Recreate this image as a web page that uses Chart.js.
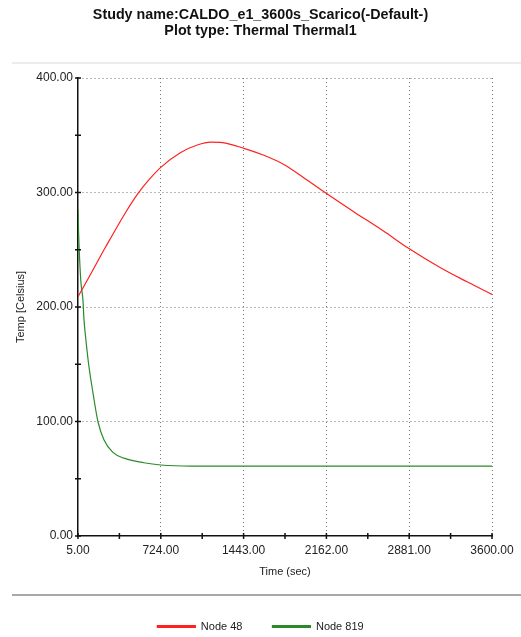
<!DOCTYPE html>
<html>
<head>
<meta charset="utf-8">
<script src="https://cdn.jsdelivr.net/npm/chart.js@4/dist/chart.umd.min.js"></script>
<style>
html,body{margin:0;padding:0;background:#fff;}
canvas{display:block;}
</style>
</head>
<body>
<canvas id="c" width="521" height="637"></canvas>
<script>
// ---- data ----
const titleLines = ["Study name:CALDO_e1_3600s_Scarico(-Default-)", "Plot type: Thermal Thermal1"];
const xAxisTitle = "Time (sec)";
const yAxisTitle = "Temp [Celsius]";
const xTicks = [5, 724, 1443, 2162, 2881, 3600];
const yTicks = [0, 100, 200, 300, 400];

const node48Name = "Node 48";
const node48Time = [5, 100, 248, 421, 525, 620, 724, 897, 1041, 1157, 1258, 1446, 1619, 1792, 1965, 2144, 2396, 2655, 2872, 3149, 3383, 3600];
const node48Temp = [209, 226, 253, 283, 299, 311, 322, 335, 341.5, 344, 343.6, 338.6, 332.5, 324.5, 313, 300.5, 283.5, 266.5, 251.5, 234.5, 222, 211];

const node819Name = "Node 819";
const node819Time = [5, 10, 20, 31, 48, 57, 74, 100, 135, 178, 230, 308, 404, 577, 724, 984, 1500, 2000, 2500, 3000, 3600];
const node819Temp = [285, 265, 240, 221, 206, 189, 171, 148, 125, 100, 84, 73, 68, 64, 62, 61, 61, 61, 61, 61, 61];

// ---- chart ----
const FONT = "'Liberation Sans', Arial, sans-serif";
const toPts = (xs, ys) => xs.map((x, i) => ({x: x, y: ys[i]}));

const xMinor = [];
for (let i = 0; i < xTicks.length - 1; i++) xMinor.push((xTicks[i] + xTicks[i + 1]) / 2);
const xAllTicks = xTicks.concat(xMinor).sort((a, b) => a - b);
const yAllTicks = [];
for (let i = 0; i < yTicks.length - 1; i++) { yAllTicks.push(yTicks[i]); yAllTicks.push((yTicks[i] + yTicks[i + 1]) / 2); }
yAllTicks.push(yTicks[yTicks.length - 1]);

const decor = {
  id: 'decor',
  afterLayout(chart) {
    chart.legend.top += 5; chart.legend.bottom += 5;
  },
  beforeDraw(chart) {
    const ctx = chart.ctx, a = chart.chartArea;
    ctx.save();
    ctx.fillStyle = '#fff';
    ctx.fillRect(0, 0, chart.width, chart.height);
    ctx.fillStyle = '#ececec';
    ctx.fillRect(12, a.top - 16, chart.width - 12, 2);
    ctx.fillStyle = '#a8a8a8';
    ctx.fillRect(12, chart.legend.top + 3, chart.width - 12, 2);
    ctx.restore();
  },
  afterDraw(chart) {
    const ctx = chart.ctx, a = chart.chartArea;
    const xs = chart.scales.x, ys = chart.scales.y;
    ctx.save();
    ctx.strokeStyle = '#111';
    ctx.lineWidth = 1.5;
    ctx.beginPath();
    xs.ticks.forEach(t => {
      const px = xs.getPixelForValue(t.value);
      ctx.moveTo(px, a.bottom - 3); ctx.lineTo(px, a.bottom + 3);
    });
    ys.ticks.forEach(t => {
      const py = ys.getPixelForValue(t.value);
      ctx.moveTo(a.left - 3, py); ctx.lineTo(a.left + 3, py);
    });
    ctx.stroke();
    ctx.restore();
  }
};

new Chart(document.getElementById('c'), {
  type: 'line',
  data: {
    datasets: [
      {label: node48Name, data: toPts(node48Time, node48Temp), borderColor: '#ff2020', backgroundColor: '#ff2020', borderWidth: 1.2, pointRadius: 0, cubicInterpolationMode: 'monotone'},
      {label: node819Name, data: toPts(node819Time, node819Temp), borderColor: '#2a8a2a', backgroundColor: '#2a8a2a', borderWidth: 1.2, pointRadius: 0, cubicInterpolationMode: 'monotone'}
    ]
  },
  options: {
    responsive: false,
    animation: false,
    devicePixelRatio: 1,
    layout: {padding: {left: 0, right: 0, top: 0, bottom: 0}},
    plugins: {
      title: {display: true, text: titleLines, color: '#111', font: {family: FONT, size: 14.3, weight: 'bold', lineHeight: 1.13}, padding: {top: 7, bottom: 38.7}},
      legend: {
        position: 'bottom',
        labels: {font: {family: FONT, size: 11}, color: '#222', boxWidth: 38, boxHeight: 2, padding: 30}
      },
      tooltip: {enabled: false}
    },
    scales: {
      x: {
        type: 'linear', min: xTicks[0], max: xTicks[xTicks.length - 1],
        afterBuildTicks: s => { s.ticks = xAllTicks.map(v => ({value: v})); },
        afterFit: s => { s.height = 50; },
        ticks: {autoSkip: false, maxRotation: 0, padding: 7, color: '#222', font: {family: FONT, size: 12},
          callback: v => xTicks.includes(v) ? v.toFixed(2) : ''},
        grid: {drawTicks: false, lineWidth: 1,
          color: c => (c.tick && xTicks.includes(c.tick.value) && c.tick.value !== xTicks[0]) ? '#707070' : 'rgba(0,0,0,0)'},
        border: {display: true, color: '#111', width: 1.5, dash: [1, 3]},
        title: {display: true, text: xAxisTitle, color: '#222', font: {family: FONT, size: 11}, padding: {top: 0, bottom: 7.4}}
      },
      y: {
        type: 'linear', min: yTicks[0], max: yTicks[yTicks.length - 1],
        afterBuildTicks: s => { s.ticks = yAllTicks.map(v => ({value: v})); },
        afterFit: s => { s.width = 78; },
        ticks: {autoSkip: false, padding: 5, color: '#222', font: {family: FONT, size: 12},
          callback: v => yTicks.includes(v) ? v.toFixed(2) : ''},
        grid: {drawTicks: false, lineWidth: 1,
          color: c => (c.tick && yTicks.includes(c.tick.value) && c.tick.value !== yTicks[0]) ? '#707070' : 'rgba(0,0,0,0)'},
        border: {display: true, color: '#111', width: 1.5, dash: [1, 3]},
        title: {display: true, text: yAxisTitle, color: '#222', font: {family: FONT, size: 11}, padding: {top: 14, bottom: 0}}
      },
      yRight: {
        type: 'linear', position: 'right', min: yTicks[0], max: yTicks[yTicks.length - 1],
        afterFit: s => { s.width = 29; },
        ticks: {display: false},
        grid: {display: false, drawOnChartArea: false},
        border: {display: false}
      }
    }
  },
  plugins: [decor]
});
</script>
</body>
</html>
